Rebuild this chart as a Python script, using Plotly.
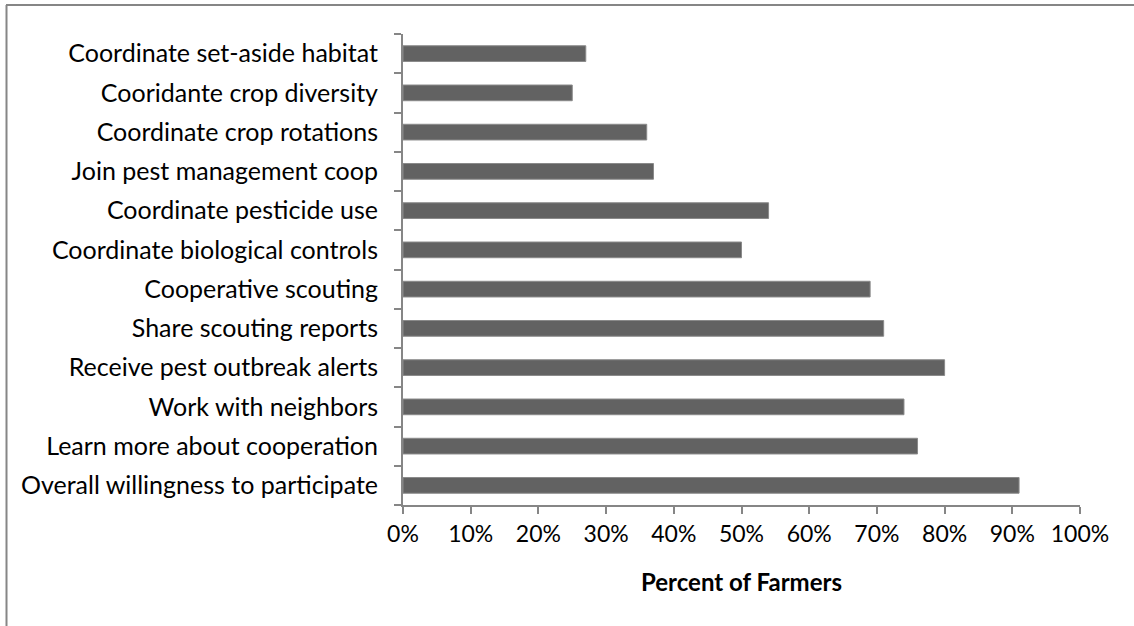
import plotly.graph_objects as go

categories = [
    "Overall willingness to participate",
    "Learn more about cooperation",
    "Work with neighbors",
    "Receive pest outbreak alerts",
    "Share scouting reports",
    "Cooperative scouting",
    "Coordinate biological controls",
    "Coordinate pesticide use",
    "Join pest management coop",
    "Coordinate crop rotations",
    "Cooridante crop diversity",
    "Coordinate set-aside habitat",
]
values = [0.91, 0.76, 0.74, 0.80, 0.71, 0.69, 0.50, 0.54, 0.37, 0.36, 0.25, 0.27]
x_ticks = [i / 10 for i in range(11)]
x_tick_labels = [f"{i*10}%" for i in range(11)]

W, H = 1134, 626
L, R, T, B = 403, 54, 34, 121
pw, ph = W - L - R, H - T - B

fig = go.Figure(go.Bar(
    y=categories, x=values, orientation="h",
    marker=dict(color="#626262", line=dict(color="#8a8a8a", width=1)),
    width=0.4,
))

font = "Lato, Carlito, Liberation Sans, sans-serif"
fig.update_layout(
    width=W, height=H,
    margin=dict(l=L, r=R, t=T, b=B, pad=0),
    paper_bgcolor="white", plot_bgcolor="white",
    showlegend=False,
    font=dict(family=font, size=20, color="black"),
    xaxis=dict(
        range=[0, 1], tickvals=x_ticks, ticktext=x_tick_labels,
        showgrid=False, zeroline=False,
        showline=True, linecolor="#868686", linewidth=2,
        ticks="outside", ticklen=7, tickwidth=2, tickcolor="#868686",
        tickfont=dict(size=23),
        title=dict(text="<b>Percent of Farmers</b>", font=dict(size=24), standoff=29),
    ),
    yaxis=dict(
        categoryorder="array", categoryarray=categories,
        range=[-0.5, len(categories) - 0.5],
        showgrid=False, zeroline=False,
        showline=True, linecolor="#868686", linewidth=2,
        ticks="outside", ticklen=7, tickwidth=2, tickcolor="#868686",
        tickson="boundaries",
        tickfont=dict(size=25),
        ticklabelstandoff=18,
    ),
)

# chart frame (top and left edges visible)
def px_x(p):
    return (p - L) / pw
def px_y(p):
    return 1 - (p - T) / ph

fig.add_shape(type="line", xref="paper", yref="paper",
              x0=px_x(6), x1=px_x(1140), y0=px_y(5), y1=px_y(5),
              line=dict(color="#868686", width=2))
fig.add_shape(type="line", xref="paper", yref="paper",
              x0=px_x(6.5), x1=px_x(6.5), y0=px_y(5), y1=px_y(630),
              line=dict(color="#868686", width=2))

fig.write_html("out.html")
